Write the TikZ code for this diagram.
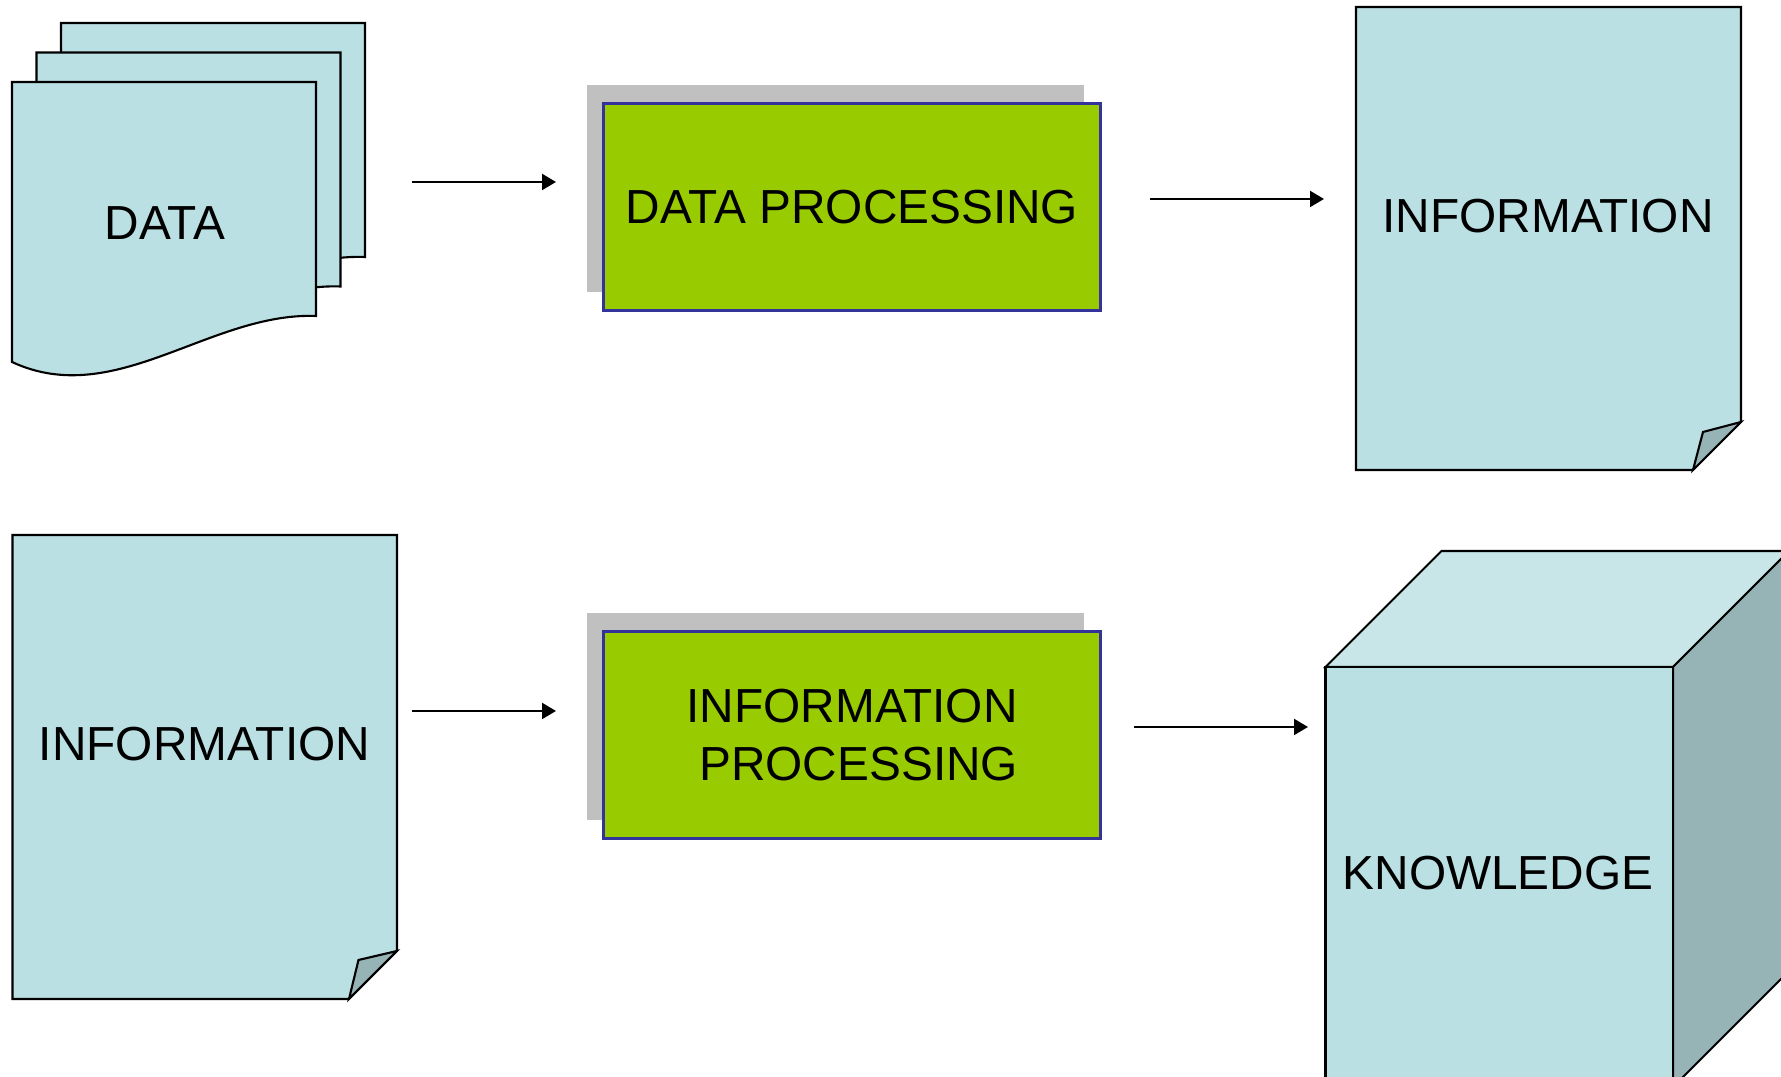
\documentclass[tikz,border=0pt]{standalone}
\usepackage{fontspec}
\setmainfont{Liberation Sans}
\usepackage{xcolor}
\usetikzlibrary{arrows.meta, positioning, shadows}

\definecolor{paper}{HTML}{BBE0E3}
\definecolor{paperdark}{HTML}{96B4B5}
\definecolor{papertop}{HTML}{C8E5E7}
\definecolor{procgreen}{HTML}{99CC00}
\definecolor{procedge}{HTML}{333399}
\definecolor{shade}{HTML}{C0C0C0}

\tikzset{
  sheet/.style={draw=black, fill=paper, line join=miter},
  fold/.style={draw=black, fill=paperdark, line join=miter},
  caption/.style={font=\fontsize{13.6}{16.5}\selectfont, align=center, inner sep=0pt},
  procbox/.style={caption, draw=procedge, fill=procgreen,
    minimum width=49.7mm, minimum height=20.7mm,
    drop shadow={shadow xshift=-1.7mm, shadow yshift=1.8mm, fill=shade, opacity=1}},
  flow/.style={-{Triangle[length=1.4mm, width=1.6mm]}}
}

\begin{document}
\begin{tikzpicture}[x=0.1mm, y=-0.1mm, line width=0.6pt]
\useasboundingbox (0,0) rectangle (1781,1077);
\clip (0,0) rectangle (1781,1077);

% stack of data sheets, back one first
\foreach \dx/\dy in {49/-59, 24.5/-29.5, 0/0}
  \draw[sheet, shift={(\dx,\dy)}] (12,82) -- (316,82) -- (316,316)
    .. controls (210,312) and (115,410) .. (12,362) -- cycle;
\node[caption] (data) at (165,223) {DATA};

% processing boxes
\node[procbox] (dproc) at (852,207) {DATA PROCESSING};
\node[procbox] (iproc) at (852,735) {INFORMATION\\\hspace*{.28em}PROCESSING};

% pages with a turned corner
\draw[sheet] (1356,7) -- (1741,7) -- (1741,422) -- (1693,470) -- (1356,470) -- cycle;
\draw[fold] (1741,422) -- (1703,432) -- (1693,470) -- cycle;
\node[caption] (info1) at (1548,216) {INFORMATION};

\draw[sheet] (12.5,535) -- (397,535) -- (397,951) -- (349,999) -- (12.5,999) -- cycle;
\draw[fold] (397,951) -- (358.5,960) -- (349,999) -- cycle;
\node[caption] (info2) at (204.5,744) {INFORMATION};

% knowledge cube
\draw[sheet, fill=papertop] (1325.5,667) -- (1441.5,551) -- (1789,551) -- (1673,667) -- cycle;
\draw[fold] (1673,667) -- (1789,551) -- (1789,971) -- (1673,1087) -- cycle;
\draw[sheet] (1325.5,667) rectangle (1673,1087);
\node[caption] (know) at (1498,873) {KNOWLEDGE};

% arrows
\path coordinate (a1) at (412,182)  coordinate (b1) at (556,182)
      coordinate (a2) at (1150,199) coordinate (b2) at (1324,199)
      coordinate (a3) at (412,711)  coordinate (b3) at (556,711)
      coordinate (a4) at (1134,727) coordinate (b4) at (1308,727);
\draw[flow] (a1) -- (b1);
\draw[flow] (a2) -- (b2);
\draw[flow] (a3) -- (b3);
\draw[flow] (a4) -- (b4);
\end{tikzpicture}
\end{document}
